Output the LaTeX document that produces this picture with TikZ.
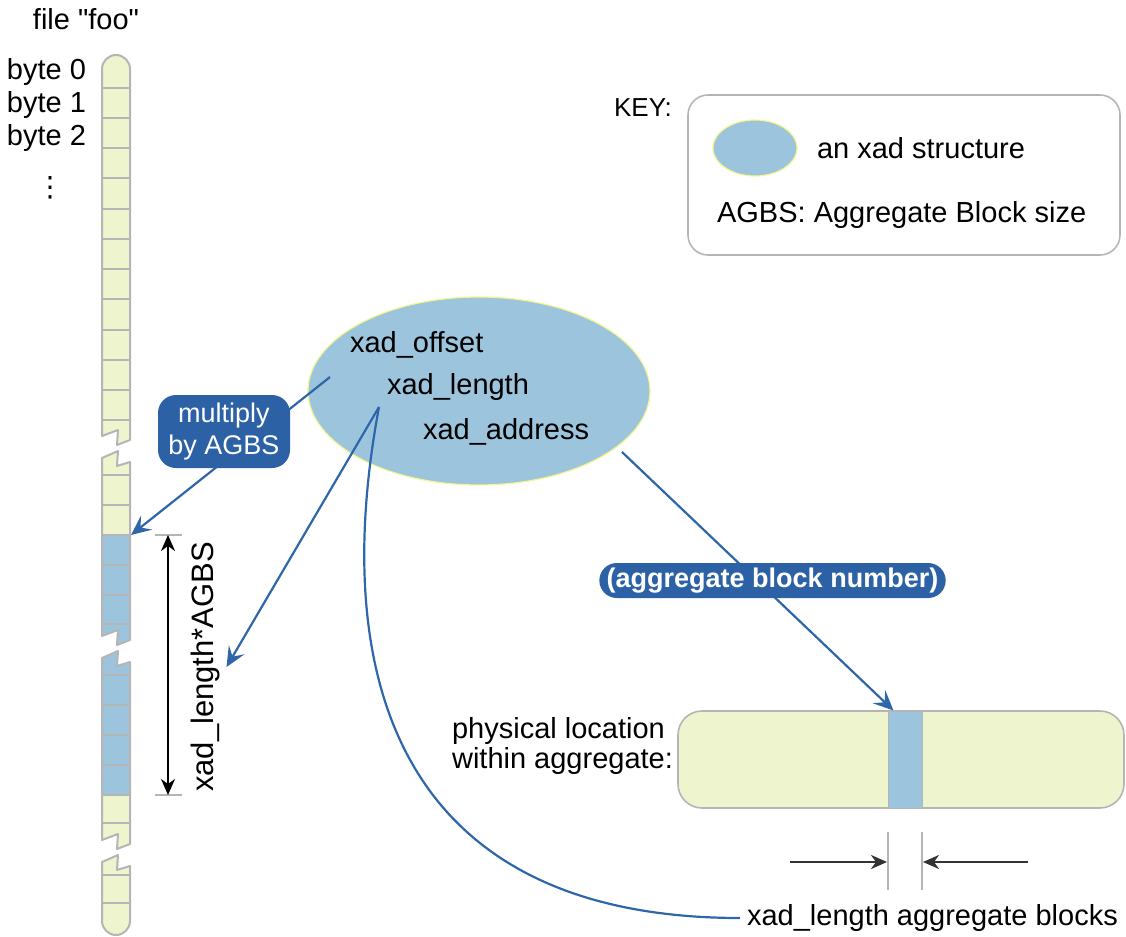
\documentclass[tikz,border=0pt]{standalone}
\usepackage{fontspec}
\setmainfont{Liberation Sans}
\newfontfamily\symfont{DejaVu Sans}
\usetikzlibrary{arrows.meta,positioning,shapes.geometric,shapes.misc}

\definecolor{cellfill}{HTML}{EEF4CE}
\definecolor{xadblue}{HTML}{9CC4DD}
\definecolor{tagblue}{HTML}{2C62A5}
\definecolor{linkblue}{HTML}{2E66AA}
\definecolor{edgegray}{HTML}{B5B5B5}

% pieces of the file strip (coordinates in pixels)
\newcommand\segA{(102,436) -- (102,69) arc[start angle=180,end angle=0,radius=7pt] -- (130,440) -- (117,445) -- (118,430) -- cycle}
\newcommand\segB{(102,458) -- (118,451) -- (117,466) -- (130,462) -- (130,640) -- (117,645) -- (118,630) -- (102,636) -- cycle}
\newcommand\segC{(102,658) -- (118,651) -- (117,666) -- (130,662) -- (130,844) -- (117,849) -- (118,834) -- (102,840) -- cycle}
\newcommand\segD{(102,862) -- (118,855) -- (117,870) -- (130,866) -- (130,921) arc[start angle=0,end angle=-180,radius=7pt] -- cycle}

\begin{document}
\begin{tikzpicture}[x=0.5pt, y=-0.5pt,
  font=\fontsize{14.5}{17}\selectfont,
  outline/.style={draw=edgegray, line width=1pt, line join=round},
  sep/.style={draw=edgegray, line width=0.9pt},
  xad/.style={ellipse, draw=cellfill!70!yellow, fill=xadblue, line width=0.6pt},
  tag/.style={fill=tagblue, text=white, font=\fontsize{13.5}{16}\selectfont, align=center, inner sep=3pt},
  link/.style={draw=linkblue, line width=1.1pt, -{Stealth[length=10pt,width=9pt,inset=4pt]}},
  curve/.style={draw=linkblue, line width=1.1pt},
  dimline/.style={black, line width=0.9pt, {Stealth[length=8pt,width=7pt,inset=2.5pt]}-{Stealth[length=8pt,width=7pt,inset=2.5pt]}},
  gaparrow/.style={black!80, line width=1.2pt, -{Stealth[length=8pt,width=7pt,inset=2.5pt]}},
  dimtick/.style={draw=edgegray, line width=1pt},
  keybox/.style={draw=edgegray, rounded corners=10pt, line width=0.8pt, minimum width=216pt, minimum height=80pt},
  bar/.style={draw=edgegray, fill=cellfill, rounded corners=12pt, line width=0.8pt, minimum width=223pt, minimum height=48.5pt},
  slot/.style={fill=xadblue, draw=edgegray, line width=0.5pt, minimum width=17pt, minimum height=48.5pt, inner sep=0pt}
]
\useasboundingbox (0,0) rectangle (1126,937);

% File strip
\node[anchor=base] (filelbl) at (86,30) {file \textquotedbl foo\textquotedbl};
\node[anchor=east] (byte0) at (93,72) {byte 0};
\node[anchor=east] (byte1) at (93,105) {byte 1};
\node[anchor=east] (byte2) at (93,138) {byte 2};
\node[font=\symfont\fontsize{14}{16}\selectfont] (dots) at (50,188) {⋮};

\fill[cellfill] \segA;
\begin{scope}
  \clip \segB;
  \fill[cellfill] (95,440) rectangle (135,535);
  \fill[xadblue] (95,535) rectangle (135,660);
\end{scope}
\begin{scope}
  \clip \segC;
  \fill[xadblue] (95,640) rectangle (135,795);
  \fill[cellfill] (95,795) rectangle (135,860);
\end{scope}
\fill[cellfill] \segD;

\foreach \y in {88,118,148,178,209,239,269,299,330,360,390,420,475,505,535,565,595,624,675,705,735,765,795,823,875,903}
  \draw[sep] (102,\y) -- (130,\y);
\foreach \s in {\segA,\segB,\segC,\segD}
  \draw[outline] \s;

% Span of the extent in the file
\coordinate (blueTop) at (131,535);
\coordinate (dimtop) at (168,535);
\coordinate (dimbot) at (168,795);
\draw[dimtick] (155,535) -- (182,535);
\draw[dimtick] (155,795) -- (182,795);
\draw[dimline] (dimtop) -- (dimbot);
\node[rotate=90, font=\fontsize{15.5}{17}\selectfont] (dimlbl) at (205,667) {xad\_length*AGBS};

% The xad structure
\node[xad, minimum width=171pt, minimum height=94pt] (xad) at (479,391) {};
\node[anchor=west] (offsettxt) at (343,345) {xad\_offset};
\node[anchor=west] (lengthtxt) at (380,387) {xad\_length};
\node[anchor=west] (addresstxt) at (416,432) {xad\_address};
\coordinate (offsetpt) at (330,377);
\coordinate (lenpt) at (379,407);
\coordinate (addrpt) at (622,452);

% Key
\node[anchor=east, font=\fontsize{13}{15}\selectfont] (keylbl) at (679,108) {KEY:};
\node[keybox] (key) at (904,175) {};
\node[xad, minimum width=42pt, minimum height=28pt] (keyxad) at (755,148) {};
\node[anchor=west] (keyxadtxt) at (810,148) {an xad structure};
\node[anchor=west] (keyagbs) at (710,215) {AGBS: Aggregate Block size};

% Aggregate
\node[bar] (agg) at (901,759.5) {};
\node[slot] (slot) at (905,759.5) {};
\node[align=left, anchor=west, font=\fontsize{14.5}{15}\selectfont] (physlbl) at (445,746) {physical location\\within aggregate:};
\coordinate (gapL) at (888,832);
\coordinate (gapR) at (922,832);
\draw[dimtick] (gapL) -- ++(0,58);
\draw[dimtick] (gapR) -- ++(0,58);
\coordinate (fromL) at (790,862);
\coordinate (fromR) at (1028,862);
\draw[gaparrow] (fromL) -- (887,862);
\draw[gaparrow] (fromR) -- (923,862);
\node[anchor=west] (blocks) at (740,918) {xad\_length aggregate blocks};

% Connectors
\draw[link] (offsetpt) -- (blueTop);
\draw[link] (lenpt) -- (dimlbl.south);
\draw[curve] (lenpt) .. controls (328,680) and (400,918) .. (blocks.west);
\draw[link] (addrpt) -- ([xshift=3pt]slot.north west);

% Labels on the connectors
\node[tag, rounded corners=9pt, minimum width=66pt, minimum height=36.5pt] (multag) at (224,431.5) {multiply\\by AGBS};
\node[tag, rounded rectangle, font=\fontsize{13.5}{16}\selectfont\bfseries, minimum width=172pt, minimum height=17.5pt, inner sep=1pt] (numtag) at (772.5,580.5) {(aggregate block number)};
\end{tikzpicture}
\end{document}
